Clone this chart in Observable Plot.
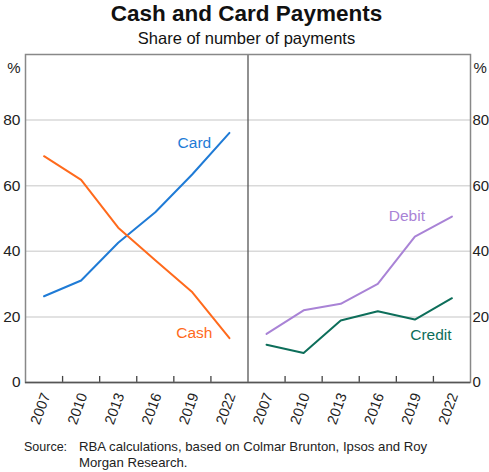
<!DOCTYPE html>
<html>
<head>
<meta charset="utf-8">
<script src="https://cdn.jsdelivr.net/npm/d3@7"></script>
<script src="https://cdn.jsdelivr.net/npm/@observablehq/plot@0.6"></script>
<style>
  html, body { margin: 0; padding: 0; background: #fff; }
  body { width: 489px; height: 472px; position: relative; overflow: hidden;
         font-family: "Liberation Sans", Arial, sans-serif; color: #111; }
  .title { position: absolute; left: 0; width: 493px; top: 3.2px; text-align: center;
           font-size: 22.5px; line-height: 22.5px; font-weight: bold; }
  .subtitle { position: absolute; left: 0; width: 493px; top: 30px; text-align: center;
              font-size: 16.5px; line-height: 16.5px; }
  #chart { position: absolute; left: 0; top: 50px; }
  .src { position: absolute; top: 438.6px; line-height: 16.7px; color: #222; }
</style>
</head>
<body>
<div class="title">Cash and Card Payments</div>
<div class="subtitle">Share of number of payments</div>
<div id="chart"></div>
<div class="src" style="left:24px; font-size:12.5px">Source:</div>
<div class="src" style="left:79px; font-size:13.2px">RBA calculations, based on Colmar Brunton, Ipsos and Roy<br>Morgan Research.</div>
<script>
const years = [2007, 2010, 2013, 2016, 2019, 2022];
const card   = [26.3, 31.1, 42.6, 51.9, 63.5, 76.1];
const cash   = [69.0, 61.8, 47.2, 37.3, 27.5, 13.5];
const debit  = [14.8, 22.0, 24.0, 30.1, 44.5, 50.6];
const credit = [11.5,  9.0, 18.9, 21.7, 19.2, 25.7];
const yTicks = [0, 20, 40, 60, 80];

const colors = {Card: "#1f7bd6", Cash: "#ff6a1c", Debit: "#a983d6", Credit: "#0d6e5a"};
const seriesDefs = [
  {name: "Card", values: card, panel: 0},
  {name: "Cash", values: cash, panel: 0},
  {name: "Debit", values: debit, panel: 1},
  {name: "Credit", values: credit, panel: 1}
];
const rows = seriesDefs.flatMap(s => years.map((yr, i) => ({
  series: s.name, year: yr, idx: s.panel * years.length + i, value: s.values[i]
})));
const n = years.length * 2;
const labelIdx = d3.range(n);
const boundaries = d3.range(n + 1).map(i => i - 0.5).filter(b => b > -0.5 && b < n - 0.5 && b !== years.length - 0.5);

// label placement relative to the 2019 point of each series
const labelOffsets = {Card: [2, -31], Cash: [2, 41], Debit: [-8, -21], Credit: [16, 16]};
const labelRows = rows.filter(r => r.year === 2019);

const chart = Plot.plot({
  width: 489,
  height: 388,
  marginLeft: 25,
  marginRight: 19,
  marginTop: 4,
  marginBottom: 56,
  style: {fontFamily: "'Liberation Sans', Arial, sans-serif", background: "#fff", color: "#222"},
  x: {type: "linear", domain: [-0.5, n - 0.5], axis: null},
  y: {domain: [0, 100], axis: null},
  marks: [
    Plot.ruleY(yTicks.filter(t => t > 0), {stroke: "#d9d9d9", strokeWidth: 1.5}),
    Plot.ruleX(boundaries, {y1: 0, y2: 1.85, stroke: "#444", strokeWidth: 1.3}),
    Plot.ruleX([years.length - 0.5], {stroke: "#555", strokeWidth: 1.3}),
    Plot.frame({stroke: "#888", strokeWidth: 1.5}),
    Plot.ruleY([0], {stroke: "#555", strokeWidth: 1.6}),
    Plot.line(rows, {x: "idx", y: "value", z: "series", stroke: d => colors[d.series], strokeWidth: 2}),
    ...labelRows.map(r => Plot.text([r], {
      x: "idx", y: "value", text: "series", fill: colors[r.series], fontSize: 15.5,
      dx: labelOffsets[r.series][0], dy: labelOffsets[r.series][1]
    })),
    Plot.axisY(yTicks, {anchor: "left", tickSize: 0, tickPadding: 5, fontSize: 15.5, label: null}),
    Plot.axisY(yTicks, {anchor: "right", tickSize: 0, tickPadding: 2, fontSize: 15, label: null}),
    Plot.text(["%"], {frameAnchor: "top-left", dx: -5, dy: 8, textAnchor: "end", fontSize: 15}),
    Plot.text(["%"], {frameAnchor: "top-right", dx: 3, dy: 8, textAnchor: "start", fontSize: 15}),
    Plot.text(labelIdx, {
      x: d => d, frameAnchor: "bottom", text: i => String(years[i % years.length]),
      rotate: -70, textAnchor: "end", lineAnchor: "middle", dx: 2, dy: 11, fontSize: 14.5
    })
  ]
});
document.getElementById("chart").appendChild(chart);
</script>
</body>
</html>
